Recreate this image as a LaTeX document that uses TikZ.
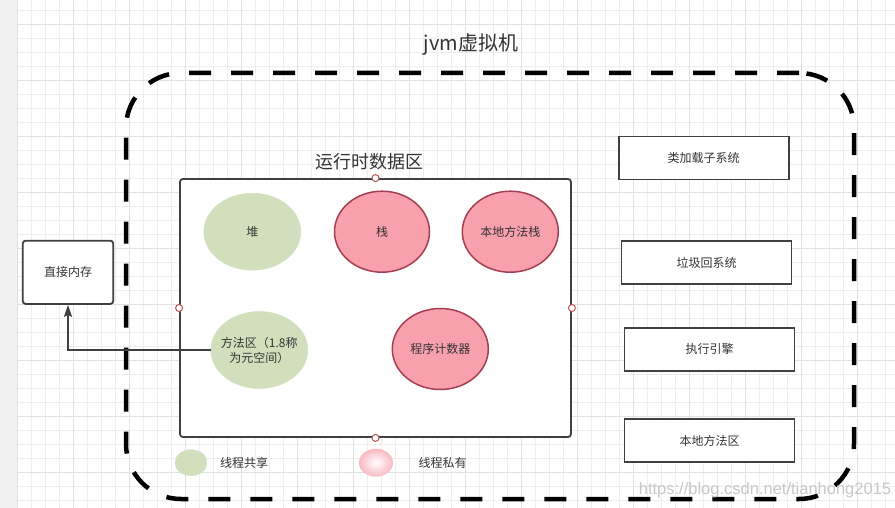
\documentclass[tikz,border=0pt]{standalone}
\usepackage{fontspec}
\setmainfont{Noto Sans CJK SC}
\newfontfamily\wmfont{Liberation Sans}
\usetikzlibrary{shapes.geometric,arrows.meta}
\definecolor{share}{RGB}{209,223,189}
\definecolor{own}{RGB}{248,161,173}
\definecolor{ownline}{RGB}{166,61,83}
\definecolor{boxline}{RGB}{64,64,64}
\definecolor{txt}{RGB}{51,51,51}
\definecolor{hdlred}{RGB}{184,84,80}
\definecolor{gridmin}{RGB}{238,238,238}
\definecolor{gridmaj}{RGB}{225,225,225}
\newcommand{\hdl}{node[circle,draw=hdlred,fill=white,line width=1pt,inner sep=0pt,minimum size=7pt]{}}
\tikzset{
  every node/.style={text=txt,font=\fontsize{12pt}{15pt}\selectfont},
  shared/.style={ellipse,fill=share,draw=share,inner sep=0pt},
  private/.style={ellipse,fill=own,draw=ownline,line width=1.5pt,inner sep=0pt},
  sysbox/.style={rectangle,draw=boxline,line width=1.8pt,fill=white,minimum width=170pt,minimum height=43pt},
  jvmline/.style={rectangle,draw=black,line width=4.5pt,dash pattern=on 22pt off 20pt,rounded corners=55pt},
}

\begin{document}
\begin{tikzpicture}[x=1pt,y=-1pt]
\useasboundingbox (0,0) rectangle (895,508);
\fill[white] (0,0) rectangle (895,508);
\fill[black!6] (0,0) rectangle (17.3,508);
\foreach \i in {0,...,62}
  \draw[gridmin,line width=0.8pt] (17.3+14*\i,0) -- (17.3+14*\i,508);
\foreach \j in {0,...,35}
  \draw[gridmin,line width=0.8pt] (17.3,10.3+14*\j) -- (895,10.3+14*\j);
\foreach \i in {0,...,15}
  \draw[gridmaj,line width=0.8pt] (17.3+56*\i,0) -- (17.3+56*\i,508);
\foreach \j in {0,...,8}
  \draw[gridmaj,line width=0.8pt] (17.3,24.3+56*\j) -- (895,24.3+56*\j);

\node[jvmline,minimum width=728pt,minimum height=426pt] (jvm) at (490,286) {};
\node[font=\fontsize{20pt}{24pt}\selectfont] (jvmtitle) at (471,45) {jvm虚拟机};

\node[draw=boxline,fill=white,line width=1.8pt,rounded corners=3pt,minimum width=391pt,minimum height=258pt] (sjq) at (375.5,308) {};
\node[font=\fontsize{18pt}{22pt}\selectfont] (sjqtitle) at (369,161.5) {运行时数据区};
\foreach \a in {north,south,east,west}
  \path (sjq.\a) \hdl;

\node[shared,minimum width=97pt,minimum height=77pt] (dui) at (252.3,231.7) {堆};
\node[private,minimum width=95pt,minimum height=81pt] (zhan) at (382,231.7) {栈};
\node[private,minimum width=96pt,minimum height=81pt] (bdffz) at (510.3,231.7) {本地方法栈};
\node[shared,minimum width=97pt,minimum height=77pt,
  label={[align=center]center:方法区（1.8称\\为元空间）}] (ffq) at (259.3,350) {};
\node[private,minimum width=96pt,minimum height=81pt] (cxjsq) at (440.3,349) {程序计数器};

\node[sysbox] (ljz) at (703.7,158) {类加载子系统};
\node[sysbox] (ljhs) at (706.5,262.5) {垃圾回系统};
\node[sysbox] (zxyq) at (709.5,349.3) {执行引擎};
\node[sysbox] (bdffq) at (709.5,440.8) {本地方法区};

\node[draw=boxline,fill=white,line width=1.8pt,rounded corners=3pt,minimum width=90.6pt,minimum height=63.3pt] (zjnc) at (68,272.3) {直接内存};
\draw[boxline,line width=1.5pt,-{Stealth[length=12pt,width=8pt,inset=2pt]}] (ffq.west) -| (zjnc.south);

\node[shared,minimum width=32pt,minimum height=26pt] (lgshare) at (191,462.7) {};
\node (lgsharetext) at (244.2,463) {线程共享};
\node[ellipse,inner sep=0pt,shading=radial,inner color=white,outer color=own!75,minimum width=34pt,minimum height=28pt] (lgown) at (376,462.7) {};
\node (lgowntext) at (442.5,463) {线程私有};

\node[font=\wmfont\fontsize{16.5pt}{18pt}\selectfont,text=black!22] (wm) at (765,490) {https://blog.csdn.net/tianhong2015};
\end{tikzpicture}
\end{document}
